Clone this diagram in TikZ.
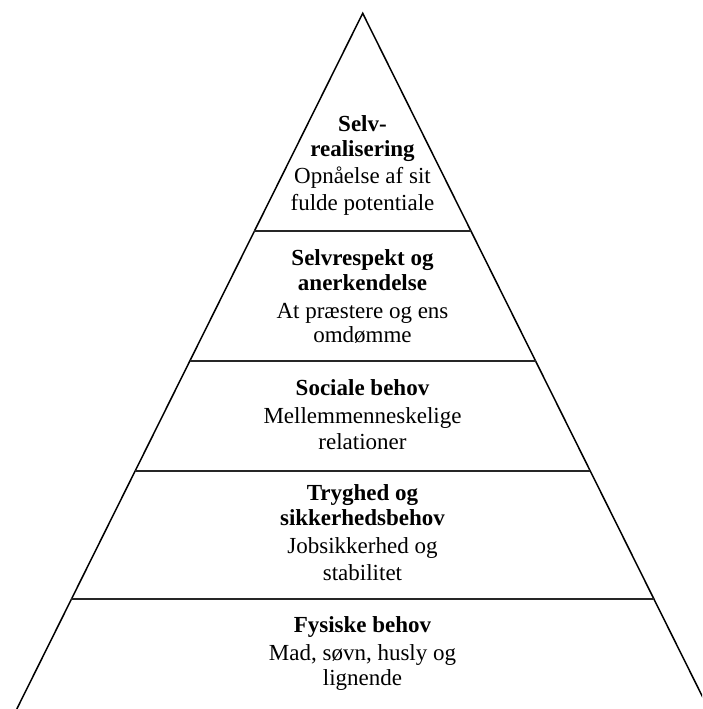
\documentclass[tikz,border=0pt]{standalone}
\usepackage{fontspec}
\setmainfont{Liberation Serif}
\usetikzlibrary{calc}
\begin{document}
\begin{tikzpicture}[x=1pt,y=1pt,
  side/.style={line width=1.5pt,black,line join=miter},
  layer/.style={line width=1.4pt,black!85},
  lbl/.style={anchor=base,inner sep=0pt,font=\fontsize{23}{26}\selectfont},
  hd/.style={lbl,font=\fontsize{23}{26}\selectfont\bfseries}]
\useasboundingbox (0,0) rectangle (702,-709);
\clip (0,0) rectangle (702,-709);
\coordinate (A) at (362.7,-13.3);
\coordinate (L) at (16.8,-709);
\coordinate (R) at (708.6,-709);
\draw[side] (L) -- (A) -- (R);
\coordinate (l1) at ($(A)!0.3129!(L)$); \coordinate (r1) at ($(A)!0.3129!(R)$);
\coordinate (l2) at ($(A)!0.4998!(L)$); \coordinate (r2) at ($(A)!0.4998!(R)$);
\coordinate (l3) at ($(A)!0.6579!(L)$); \coordinate (r3) at ($(A)!0.6579!(R)$);
\coordinate (l4) at ($(A)!0.8419!(L)$); \coordinate (r4) at ($(A)!0.8419!(R)$);
\draw[layer] (l1) -- (r1);
\draw[layer] (l2) -- (r2);
\draw[layer] (l3) -- (r3);
\draw[layer] (l4) -- (r4);
% level 1
\node[hd]  (a1) at (362.5,-131.5) {Selv-};
\node[hd]  (a2) at (362.5,-156.5) {realisering};
\node[lbl] (a3) at (362.5,-183) {Opnåelse af sit};
\node[lbl] (a4) at (362.5,-210) {fulde potentiale};
% level 2
\node[hd]  (b1) at (362.5,-265) {Selvrespekt og};
\node[hd]  (b2) at (362.5,-290) {anerkendelse};
\node[lbl] (b3) at (362.5,-318) {At præstere og ens};
\node[lbl] (b4) at (362.5,-342) {omdømme};
% level 3
\node[hd]  (c1) at (362.5,-395) {Sociale behov};
\node[lbl] (c2) at (362.5,-423) {Mellemmenneskelige};
\node[lbl] (c3) at (362.5,-449) {relationer};
% level 4
\node[hd]  (d1) at (362.5,-500) {Tryghed og};
\node[hd]  (d2) at (362.5,-525) {sikkerhedsbehov};
\node[lbl] (d3) at (362.5,-553) {Jobsikkerhed og};
\node[lbl] (d4) at (362.5,-580) {stabilitet};
% level 5
\node[hd]  (e1) at (362.5,-632) {Fysiske behov};
\node[lbl] (e2) at (362.5,-660) {Mad, søvn, husly og};
\node[lbl] (e3) at (362.5,-685) {lignende};
\end{tikzpicture}
\end{document}
